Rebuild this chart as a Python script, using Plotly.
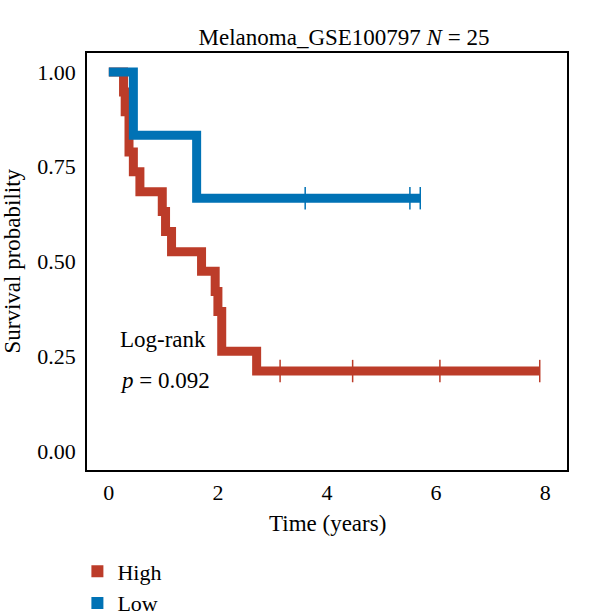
import plotly.graph_objects as go

# Kaplan-Meier step data
high_times = [0, 0.27, 0.30, 0.37, 0.45, 0.57, 0.98, 1.04, 1.15, 1.70, 1.95, 2.00, 2.07, 2.71, 7.90]
high_surv = [1.0, 0.947, 0.895, 0.789, 0.737, 0.684, 0.632, 0.579, 0.526, 0.474, 0.421, 0.368, 0.263, 0.211, 0.211]
high_censor_t = [3.14, 4.47, 6.07, 7.90]
high_censor_s = [0.211, 0.211, 0.211, 0.211]

low_times = [0, 0.45, 1.61, 5.71]
low_surv = [1.0, 0.833, 0.667, 0.667]
low_censor_t = [3.60, 5.52, 5.71]
low_censor_s = [0.667, 0.667, 0.667]

groups = ["High", "Low"]
colors = {"High": "#BC3C29", "Low": "#0072B5"}
x_ticks = [0, 2, 4, 6, 8]
y_ticks = [0.0, 0.25, 0.5, 0.75, 1.0]
y_ticktext = ["0.00", "0.25", "0.50", "0.75", "1.00"]

FONT = "Liberation Serif"

fig = go.Figure()

series = {
    "High": (high_times, high_surv, high_censor_t, high_censor_s),
    "Low": (low_times, low_surv, low_censor_t, low_censor_s),
}

for g in groups:
    t, s, ct, cs = series[g]
    fig.add_trace(go.Scatter(x=t, y=s, mode="lines", line=dict(color=colors[g], width=9, shape="hv"),
                             showlegend=False, hoverinfo="skip"))
    fig.add_trace(go.Scatter(x=ct, y=cs, mode="markers",
                             marker=dict(symbol="line-ns-open", size=16, color=colors[g],
                                         line=dict(color=colors[g], width=1.5)),
                             showlegend=False, hoverinfo="skip"))

for g in groups:
    fig.add_trace(go.Scatter(x=[None], y=[None], mode="markers", name=g,
                             marker=dict(symbol="square", size=19, color=colors[g])))

fig.update_layout(
    width=600, height=616,
    margin=dict(l=87, r=33, t=53, b=146, autoexpand=False),
    paper_bgcolor="white", plot_bgcolor="white",
    font=dict(family=FONT, size=22, color="black"),
    title=dict(text="Melanoma_GSE100797 <i>N</i> = 25", x=344/600, xanchor="center",
               y=1 - 37/616, yanchor="middle", yref="container",
               font=dict(family=FONT, size=23, color="black")),
    legend=dict(x=-0.02, y=-0.193, xanchor="left", yanchor="top", orientation="v",
                font=dict(family=FONT, size=22), bgcolor="rgba(0,0,0,0)",
                itemsizing="constant", tracegroupgap=0),
    showlegend=True,
)

fig.update_xaxes(range=[-0.4, 8.4], tickvals=x_ticks, showgrid=False, zeroline=False,
                 showline=True, mirror=True, linecolor="black", linewidth=1.5,
                 ticks="", ticklabelstandoff=2, tickfont=dict(family=FONT, size=22))
fig.update_yaxes(range=[-0.05, 1.05], tickvals=y_ticks, ticktext=y_ticktext, showgrid=False,
                 zeroline=False, showline=True, mirror=True, linecolor="black", linewidth=1.5,
                 ticks="", ticklabelstandoff=5, tickfont=dict(family=FONT, size=22))

fig.add_annotation(text="Time (years)", xref="paper", yref="paper", x=0.5, y=(470 - 523) / 417,
                   xanchor="center", yanchor="middle", showarrow=False,
                   font=dict(family=FONT, size=23))
fig.add_annotation(text="Survival probability", xref="paper", yref="paper", x=(12 - 87) / 480,
                   y=0.5, xanchor="center", yanchor="middle", textangle=-90, showarrow=False,
                   font=dict(family=FONT, size=23))
fig.add_annotation(text="Log-rank", xref="x", yref="y", x=0.17, y=0.293, xanchor="left",
                   yanchor="middle", showarrow=False, font=dict(family=FONT, size=23))
fig.add_annotation(text="<i>p</i> = 0.092", xref="x", yref="y", x=0.17, y=0.187, xanchor="left",
                   yanchor="middle", showarrow=False, font=dict(family=FONT, size=23))

fig.write_html("out.html")
